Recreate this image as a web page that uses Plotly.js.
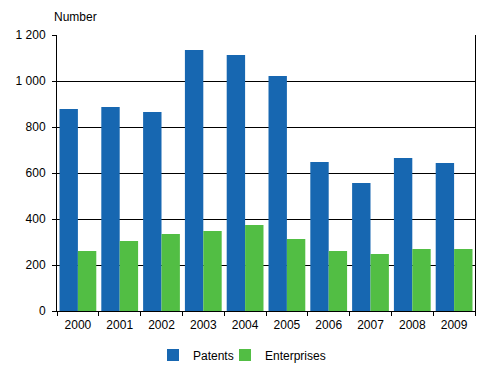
<!DOCTYPE html>
<html>
<head>
<meta charset="utf-8">
<script src="https://cdn.plot.ly/plotly-3.0.1.min.js"></script>
<style>html,body{margin:0;padding:0;background:#fff;}#chart{width:493px;height:379px;}</style>
</head>
<body>
<div id="chart"></div>
<script>
const years = ['2000','2001','2002','2003','2004','2005','2006','2007','2008','2009'];
const patents = [878, 887, 865, 1135, 1113, 1022, 648, 557, 665, 643];
const enterprises = [261, 304, 335, 348, 374, 313, 261, 248, 270, 270];
const yTicks = [0, 200, 400, 600, 800, 1000, 1200];

const font = {family: 'Liberation Sans, Arial, sans-serif', size: 12, color: '#000'};

const data = [
  {type: 'bar', name: 'Patents', x: years, y: patents, marker: {color: '#1767B1'}, legend: 'legend'},
  {type: 'bar', name: 'Enterprises', x: years, y: enterprises, marker: {color: '#52BE44'}, legend: 'legend2'}
];

const legBase = {orientation: 'h', xref: 'container', yref: 'container', xanchor: 'left', y: 0.063, yanchor: 'middle', font: font, itemwidth: 30, bgcolor: 'rgba(0,0,0,0)'};

const layout = {
  width: 493, height: 379,
  margin: {l: 57, r: 18, t: 35, b: 68},
  paper_bgcolor: '#fff', plot_bgcolor: '#fff',
  font: font,
  separators: '. ',
  barmode: 'group', bargap: 0.12, bargroupgap: 0,
  showlegend: true,
  legend: Object.assign({}, legBase, {x: 153/493}),
  legend2: Object.assign({}, legBase, {x: 225/493}),
  xaxis: {
    type: 'category', showgrid: false, showline: true, linecolor: '#000', linewidth: 1,
    ticks: 'outside', tickson: 'boundaries', ticklen: 4, tickcolor: '#000', ticklabelstandoff: 3,
    mirror: false, tickfont: font, fixedrange: true
  },
  yaxis: {
    range: [0, 1200], tickvals: yTicks, separatethousands: true, tickformat: ',d',
    showgrid: true, gridcolor: '#000', gridwidth: 1,
    showline: true, linecolor: '#000', linewidth: 1, mirror: true,
    ticks: 'outside', ticklen: 4, tickcolor: '#000', tickfont: font, zeroline: false, ticklabelstandoff: 4
  },
  annotations: [{text: 'Number', xref: 'paper', yref: 'paper', x: -0.012, xanchor: 'left', y: 1.065, yanchor: 'middle', showarrow: false, font: font}]
};

Plotly.newPlot('chart', data, layout, {displayModeBar: false, staticPlot: true});
</script>
</body>
</html>
